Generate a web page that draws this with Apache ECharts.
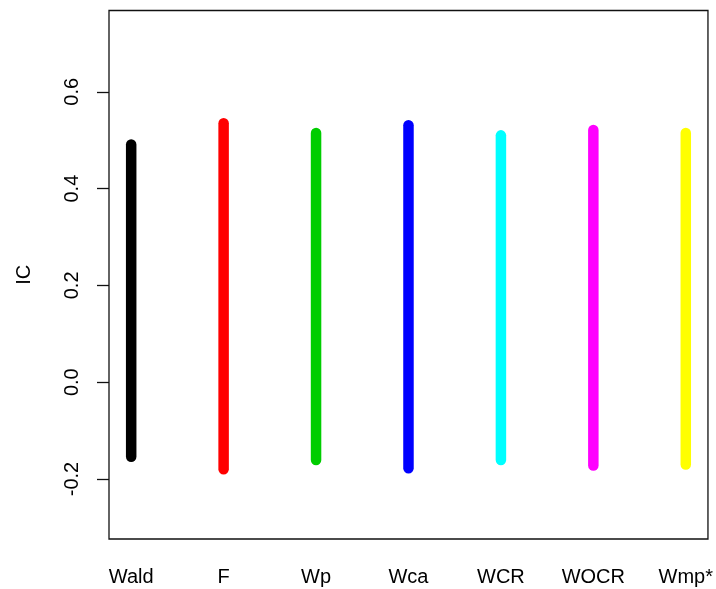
<!DOCTYPE html>
<html>
<head>
<meta charset="utf-8">
<script src="https://cdn.jsdelivr.net/npm/echarts@6/dist/echarts.min.js"></script>
<style>
  html, body { margin: 0; padding: 0; background: #fff; }
  #chart { width: 716px; height: 589px; }
</style>
</head>
<body>
<div id="chart"></div>
<script>
// Interval endpoints (lower / upper IC bound) for each method
const methods = ['Wald', 'F', 'Wp', 'Wca', 'WCR', 'WOCR', 'Wmp*'];
const lower = [-0.154, -0.180, -0.161, -0.178, -0.161, -0.172, -0.170];
const upper = [0.491, 0.535, 0.515, 0.531, 0.510, 0.521, 0.515];
const colors = ['#000000', '#FF0000', '#00CD00', '#0000FF', '#00FFFF', '#FF00FF', '#FFFF00'];
const yTicks = [-0.2, 0.0, 0.2, 0.4, 0.6];
const xPositions = [1, 2, 3, 4, 5, 6, 7];

const font = '"Liberation Sans", Arial, sans-serif';

const series = methods.map((m, i) => ({
  name: m,
  type: 'line',
  symbol: 'none',
  silent: true,
  animation: false,
  lineStyle: { color: colors[i], width: 10.5, cap: 'round' },
  data: [[xPositions[i], lower[i]], [xPositions[i], upper[i]]]
}));

const chart = echarts.init(document.getElementById('chart'), null, { renderer: 'canvas' });
chart.setOption({
  animation: false,
  backgroundColor: '#ffffff',
  grid: {
    left: 109, top: 10.5, right: 5.5, bottom: 50,
    show: true, borderColor: '#111', borderWidth: 1.3, backgroundColor: 'transparent'
  },
  xAxis: {
    type: 'value',
    min: 0.76, max: 7.24,
    splitLine: { show: false },
    axisLine: { show: false },
    axisTick: {
      show: true, customValues: xPositions, length: 12, inside: false,
      lineStyle: { color: '#111', width: 1.3 }
    },
    axisLabel: {
      customValues: xPositions,
      margin: 28,
      fontFamily: font, fontSize: 20, color: '#000',
      formatter: v => methods[Math.round(v) - 1] || ''
    }
  },
  yAxis: {
    type: 'value',
    min: -0.324, max: 0.768,
    name: 'IC',
    nameLocation: 'middle',
    nameGap: 75,
    nameRotate: 90,
    nameTextStyle: { fontFamily: font, fontSize: 20, color: '#000' },
    splitLine: { show: false },
    axisLine: { show: false },
    axisTick: {
      show: true, customValues: yTicks, length: 12,
      lineStyle: { color: '#111', width: 1.3 }
    },
    axisLabel: {
      customValues: yTicks,
      rotate: 90,
      margin: 27,
      fontFamily: font, fontSize: 20, color: '#000',
      formatter: v => v.toFixed(1)
    }
  },
  series: series
});
</script>
</body>
</html>
